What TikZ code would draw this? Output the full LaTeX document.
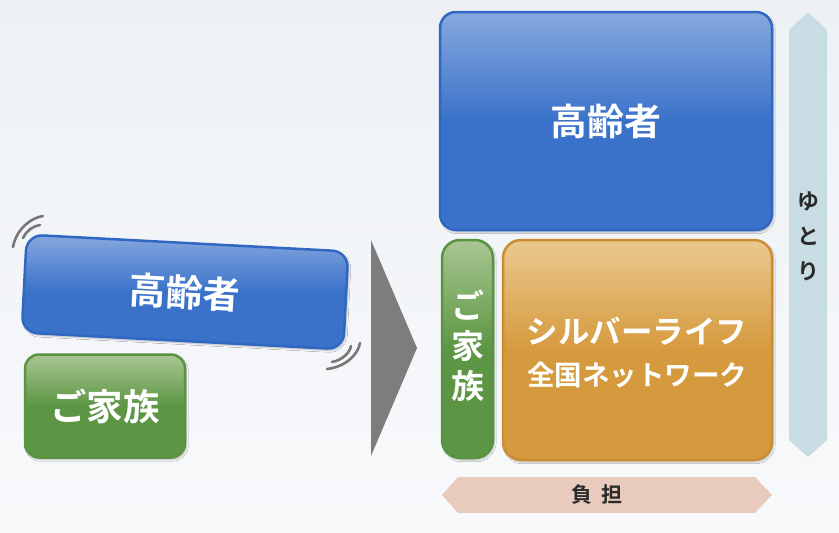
\documentclass[tikz,border=0pt]{standalone}
\usepackage{fontspec}
\newfontfamily\jp{Noto Sans CJK JP}[BoldFont={Noto Sans CJK JP Bold}]
\usetikzlibrary{shadows.blur}
\definecolor{bgtop}{HTML}{EDF1F6}
\definecolor{bgbot}{HTML}{F8F9FB}
\definecolor{bluemain}{HTML}{3A72C9}
\definecolor{bluelight}{HTML}{86A8DE}
\definecolor{blueedge}{HTML}{2F67C2}
\definecolor{greenmain}{HTML}{5C9644}
\definecolor{greenlight}{HTML}{A9C692}
\definecolor{greenedge}{HTML}{5A9341}
\definecolor{orangemain}{HTML}{D69A3E}
\definecolor{orangelight}{HTML}{E9C98E}
\definecolor{orangeedge}{HTML}{CC8C34}
\definecolor{yutori}{HTML}{C7DDE3}
\definecolor{futan}{HTML}{E9CBBE}
\definecolor{arrowgray}{HTML}{7D7D7D}
\definecolor{wavegray}{HTML}{777777}
\definecolor{darktext}{HTML}{2A2A2A}
\tikzset{
  box/.style={rounded corners=16pt, line width=2.5pt, align=center,
    font=\jp\bfseries, text=white, inner sep=0pt,
    blur shadow={shadow blur steps=5, shadow xshift=1.5pt, shadow yshift=-2pt, shadow opacity=25}},
  bluebox/.style={box, draw=blueedge, top color=bluelight, bottom color=bluemain, middle color=bluemain},
  greenbox/.style={box, draw=greenedge, top color=greenlight, bottom color=greenmain, middle color=greenmain},
  orangebox/.style={box, draw=orangeedge, top color=orangelight, bottom color=orangemain, middle color=orangemain},
  wave/.style={draw=wavegray, line width=2.6pt, line cap=round},
  label/.style={font=\jp\bfseries, text=darktext, inner sep=0pt},
}
\begin{document}
\begin{tikzpicture}[x=1pt,y=-1pt]
\useasboundingbox (0,0) rectangle (839,533);
\shade[top color=bgtop, bottom color=bgbot] (0,0) rectangle (839,533);

% left side
\node[bluebox, rotate=-3, minimum width=322pt, minimum height=98pt, font=\jp\bfseries\fontsize{37}{37}\selectfont] (oldL) at (185,292) {高齢者};
\node[greenbox, minimum width=160pt, minimum height=103pt, rounded corners=14pt, font=\jp\bfseries\fontsize{36.5}{36.5}\selectfont] (famL) at (105,406) {ご家族};

\draw[wave] (13,247) .. controls (16,230) and (30,218) .. (43,216);
\draw[wave] (23,238) .. controls (26,231) and (33,226) .. (40,225);
\draw[wave] (327,369) .. controls (345,367) and (358,355) .. (360,343);
\draw[wave] (332,362) .. controls (343,360) and (350,352) .. (351,346);

% central arrow
\coordinate (ta) at (371,240);
\coordinate (tb) at (417,348);
\coordinate (tc) at (371,456);
\fill[arrowgray] (ta) -- (tb) -- (tc) -- cycle;

% right side
\node[bluebox, minimum width=332pt, minimum height=218pt, font=\jp\bfseries\fontsize{37}{37}\selectfont] (oldR) at (606,121) {高齢者};
\node[greenbox, minimum width=51pt, minimum height=218pt, rounded corners=18pt] (famR) at (467.5,349) {};
\node[font=\jp\bfseries\fontsize{33}{40}\selectfont, text=white, align=center, inner sep=0pt] (famRt) at (467.5,346) {ご\\家\\族};
\node[orangebox, minimum width=269pt, minimum height=220pt, rounded corners=18pt] (net) at (637.5,350) {};
\node[font=\jp\bfseries\fontsize{31.5}{31.5}\selectfont, text=white, inner sep=0pt] (net1) at (637,331) {シルバーライフ};
\node[font=\jp\bfseries\fontsize{27.5}{27.5}\selectfont, text=white, inner sep=0pt] (net2) at (637,375) {全国ネットワーク};

% yutori arrow
\fill[yutori] (808,12) -- (827,30) -- (827,440) -- (808,457) -- (789,440) -- (789,30) -- cycle;
\node[label, font=\jp\bfseries\fontsize{22}{35}\selectfont, align=center] (yut) at (808,236) {ゆ\\と\\り};

% futan arrow
\fill[futan] (442,495) -- (458,477) -- (755,477) -- (772,495) -- (755,513) -- (458,513) -- cycle;
\node[label, font=\jp\bfseries\fontsize{21}{21}\selectfont] (fut) at (597,495) {負\hspace{9pt}担};
\end{tikzpicture}
\end{document}
